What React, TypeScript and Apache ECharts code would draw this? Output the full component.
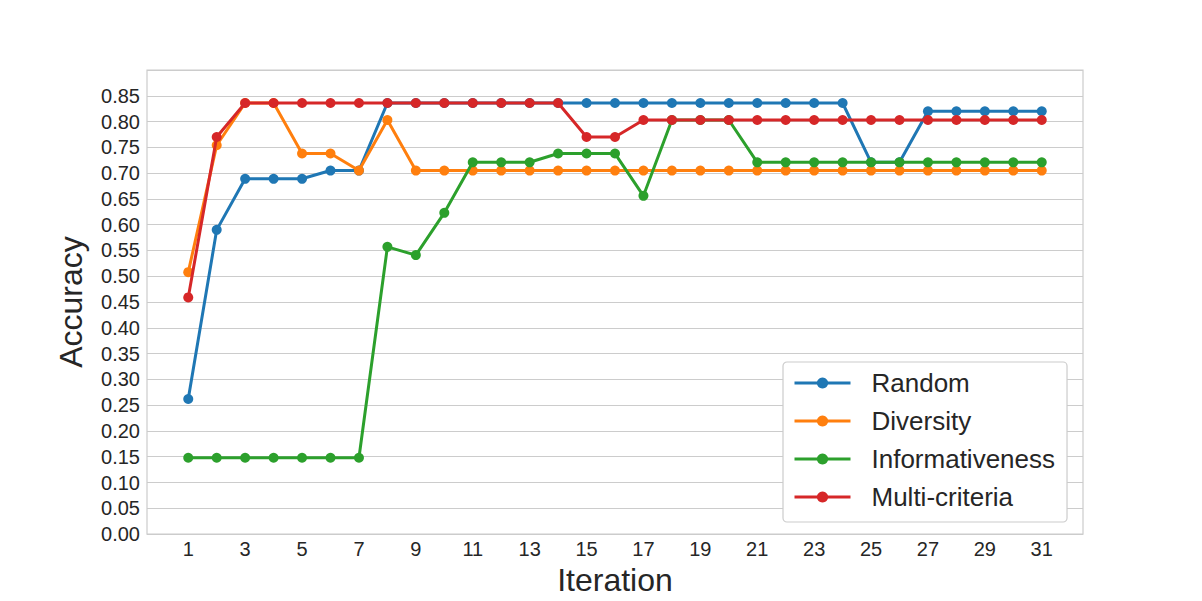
import React, { useEffect, useRef } from "react";
import * as echarts from "echarts";

const iterations = Array.from({ length: 31 }, (_, i) => i + 1);
const xTickLabels = [1, 3, 5, 7, 9, 11, 13, 15, 17, 19, 21, 23, 25, 27, 29, 31];

const random = [0.262, 0.590, 0.689, 0.689, 0.689, 0.705, 0.705, 0.836, 0.836, 0.836, 0.836, 0.836, 0.836, 0.836, 0.836, 0.836, 0.836, 0.836, 0.836, 0.836, 0.836, 0.836, 0.836, 0.836, 0.721, 0.721, 0.820, 0.820, 0.820, 0.820, 0.820];
const diversity = [0.508, 0.754, 0.836, 0.836, 0.738, 0.738, 0.705, 0.803, 0.705, 0.705, 0.705, 0.705, 0.705, 0.705, 0.705, 0.705, 0.705, 0.705, 0.705, 0.705, 0.705, 0.705, 0.705, 0.705, 0.705, 0.705, 0.705, 0.705, 0.705, 0.705, 0.705];
const informativeness = [0.148, 0.148, 0.148, 0.148, 0.148, 0.148, 0.148, 0.557, 0.541, 0.623, 0.721, 0.721, 0.721, 0.738, 0.738, 0.738, 0.656, 0.803, 0.803, 0.803, 0.721, 0.721, 0.721, 0.721, 0.721, 0.721, 0.721, 0.721, 0.721, 0.721, 0.721];
const multiCriteria = [0.459, 0.770, 0.836, 0.836, 0.836, 0.836, 0.836, 0.836, 0.836, 0.836, 0.836, 0.836, 0.836, 0.836, 0.770, 0.770, 0.803, 0.803, 0.803, 0.803, 0.803, 0.803, 0.803, 0.803, 0.803, 0.803, 0.803, 0.803, 0.803, 0.803, 0.803];

const seriesNames = ["Random", "Diversity", "Informativeness", "Multi-criteria"];
const seriesValues = [random, diversity, informativeness, multiCriteria];
const colors = ["#1f77b4", "#ff7f0e", "#2ca02c", "#d62728"];

export default function App() {
  const ref = useRef<HTMLDivElement>(null);
  useEffect(() => {
    if (!ref.current) return;
    const chart = echarts.init(ref.current, null, { renderer: "svg" });
    const font = "Liberation Sans";
    chart.setOption({
      animation: false,
      backgroundColor: "#ffffff",
      textStyle: { fontFamily: font },
      grid: { left: 147, right: 119, top: 70, bottom: 64, show: true, borderColor: "#cccccc", borderWidth: 1.2 },
      legend: {
        orient: "vertical",
        left: 783,
        top: 362,
        backgroundColor: "#ffffff",
        borderColor: "#cccccc",
        borderWidth: 1.2,
        borderRadius: 4,
        padding: [7, 12, 11, 10],
        itemWidth: 56,
        itemHeight: 14,
        itemGap: 10,
        lineStyle: { width: 3 },
        textStyle: { fontSize: 26, color: "#262626", fontFamily: font, padding: [0, 0, 0, 16], lineHeight: 28 },
        data: seriesNames,
      },
      xAxis: {
        type: "value",
        min: -0.45,
        max: 32.45,
        name: "Iteration",
        nameLocation: "middle",
        nameGap: 27,
        nameTextStyle: { fontSize: 32, color: "#262626", fontFamily: font },
        axisLine: { show: false },
        axisTick: { show: false },
        splitLine: { show: false },
        axisLabel: { customValues: xTickLabels, fontSize: 20, color: "#262626", margin: 5, fontFamily: font },
      },
      yAxis: {
        type: "value",
        min: 0,
        max: 0.9,
        interval: 0.05,
        name: "Accuracy",
        nameLocation: "middle",
        nameGap: 60,
        nameTextStyle: { fontSize: 32, color: "#262626", fontFamily: font },
        axisLine: { show: false },
        axisTick: { show: false },
        splitLine: { show: true, lineStyle: { color: "#cccccc", width: 1.2 } },
        axisLabel: {
          fontSize: 20,
          color: "#262626",
          margin: 7,
          fontFamily: font,
          formatter: (v: number) => (v > 0.875 ? "" : v.toFixed(2)),
        },
      },
      series: seriesNames.map((name, i) => ({
        name,
        type: "line",
        data: iterations.map((x, j) => [x, seriesValues[i][j]]),
        symbol: "circle",
        symbolSize: 10,
        lineStyle: { width: 3, color: colors[i] },
        itemStyle: { color: colors[i] },
        z: 2 + i,
      })),
    });
    return () => chart.dispose();
  }, []);
  return <div ref={ref} style={{ position: "fixed", left: 0, top: 0, width: 1202, height: 601 }} />;
}
